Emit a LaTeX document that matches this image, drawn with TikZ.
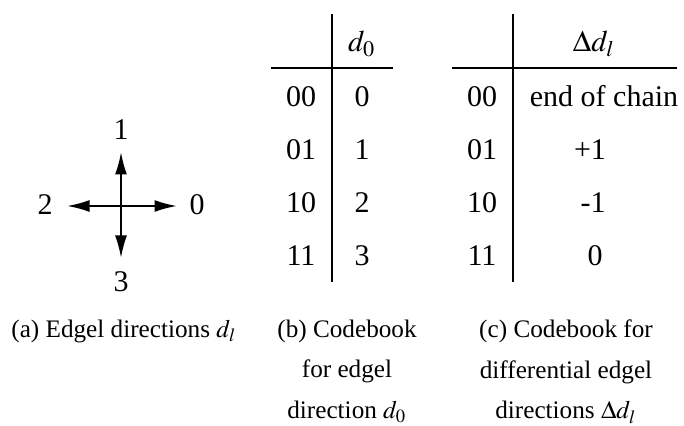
\documentclass[tikz,border=0pt]{standalone}
\usepackage{mathptmx}
\usepackage{fontspec}
\setmainfont{Liberation Serif}
\usetikzlibrary{arrows.meta}
\tikzset{
    cell/.style = {inner sep=0pt, anchor=base,
        font=\fontsize{10}{12}\selectfont},
    label/.style = {cell},
    caption/.style = {inner sep=0pt, anchor=north, align=center,
        font=\fontsize{8.4}{13.6}\selectfont},
    rule/.style = {line width=0.8pt},
    dirarrow/.style = {line width=0.7pt, -{Latex[length=7.5pt,width=4pt]}},
}
\begin{document}
\begin{tikzpicture}[x=0.3333pt, y=-0.3333pt]
	\useasboundingbox (0,0) rectangle (684,426);
	
	% (a) edgel directions
	\coordinate (o) at (121,206);
	\coordinate (e0) at (177,206);
	\coordinate (e1) at (121,152);
	\coordinate (e2) at (67,206);
	\coordinate (e3) at (121,258);
	\node (dir0) [label] at (197,215) {0};
	\node (dir1) [label] at (121,140) {1};
	\node (dir2) [label] at (45,215) {2};
	\node (dir3) [label] at (121,292) {3};
	\draw [dirarrow] (o) -- (e0);
	\draw [dirarrow] (o) -- (e1);
	\draw [dirarrow] (o) -- (e2);
	\draw [dirarrow] (o) -- (e3);
	
	% (b) codebook for d0
	\node (bHead) [cell] at (362,52) {$d_0$};
	\node (bCode0) [cell] at (301,107) {00};
	\node (bCode1) [cell] at (301,160) {01};
	\node (bCode2) [cell] at (301,213) {10};
	\node (bCode3) [cell] at (301,266) {11};
	\node (bVal0) [cell] at (362,107) {0};
	\node (bVal1) [cell] at (362,160) {1};
	\node (bVal2) [cell] at (362,213) {2};
	\node (bVal3) [cell] at (362,266) {3};
	\coordinate (bTop) at (332,14);
	\coordinate (bBottom) at (332,282);
	\coordinate (bLeft) at (271,68);
	\coordinate (bRight) at (393,68);
	\draw [rule] (bTop) -- (bBottom);
	\draw [rule] (bLeft) -- (bRight);
	
	% (c) codebook for differential directions
	\node (cHead) [cell] at (594,52) {$\Delta d_l$};
	\node (cCode0) [cell] at (482,107) {00};
	\node (cCode1) [cell] at (482,160) {01};
	\node (cCode2) [cell] at (482,213) {10};
	\node (cCode3) [cell] at (482,266) {11};
	\node (cVal0) [cell] at (604,107) {end of chain};
	\node (cVal1) [cell] at (590,160) {+1};
	\node (cVal2) [cell] at (593,213) {-1};
	\node (cVal3) [cell] at (595,266) {0};
	\coordinate (cTop) at (513,14);
	\coordinate (cBottom) at (513,282);
	\coordinate (cLeft) at (452,68);
	\coordinate (cRight) at (677,68);
	\draw [rule] (cTop) -- (cBottom);
	\draw [rule] (cLeft) -- (cRight);
	
	% captions
	\node (capA) [caption] at (124,319) {(a) Edgel directions $d_l$};
	\node (capB) [caption] at (347,319) {(b) Codebook\\ for edgel\\ direction $d_0$};
	\node (capC) [caption] at (566,319) {(c) Codebook for\\ differential edgel\\ directions $\Delta d_l$};
	
\end{tikzpicture}
\end{document}
